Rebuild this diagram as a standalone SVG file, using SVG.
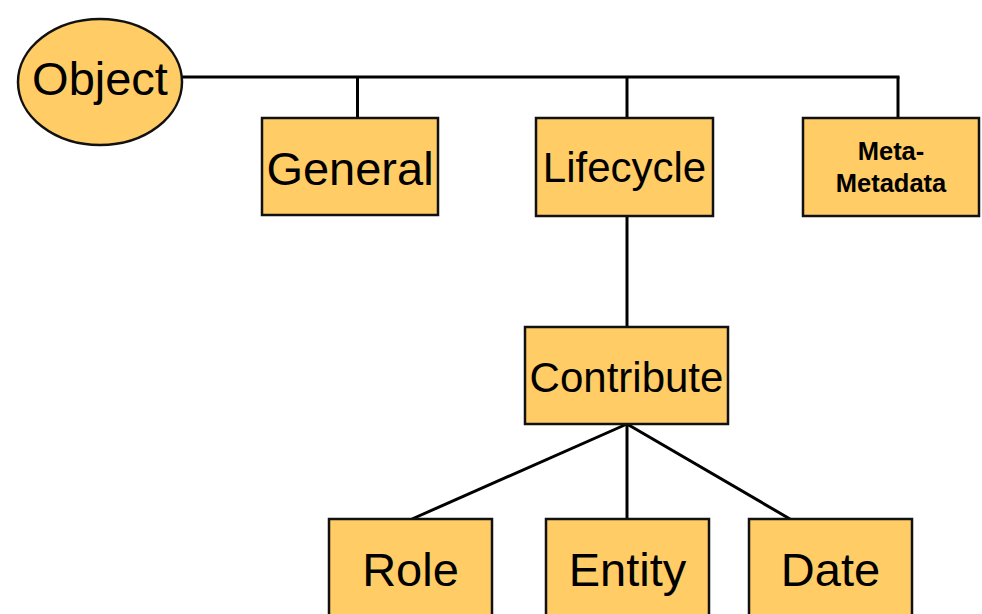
<svg xmlns="http://www.w3.org/2000/svg" width="982" height="614" viewBox="0 0 982 614">
  <style>
    .node { fill: #FFCC66; stroke: #111; stroke-width: 2.5; }
    .lbl { font-family: "Liberation Sans", Arial, sans-serif; fill: #000; text-anchor: middle; }
    .big { font-size: 47px; }
    .mid { font-size: 42px; }
    .small { font-size: 25.5px; font-weight: bold; }
    .link { stroke: #000; stroke-width: 3; fill: none; }
  </style>
  <rect width="982" height="614" fill="#fff"/>

  <g id="connectors">
    <line class="link" x1="182" y1="77" x2="899.5" y2="77"/>
    <line class="link" x1="357.5" y1="77" x2="357.5" y2="118"/>
    <line class="link" x1="627" y1="77" x2="627" y2="118"/>
    <line class="link" x1="898" y1="77" x2="898" y2="118"/>
    <line class="link" x1="627" y1="216" x2="627" y2="327"/>
    <line class="link" x1="627" y1="424" x2="412" y2="519" stroke-width="2.5"/>
    <line class="link" x1="627" y1="424" x2="627" y2="519"/>
    <line class="link" x1="627" y1="424" x2="790" y2="519" stroke-width="2.5"/>
  </g>

  <g id="object">
    <ellipse class="node" cx="100" cy="82" rx="82" ry="63"/>
    <text class="lbl big" x="100" y="95">Object</text>
  </g>

  <g id="general">
    <rect class="node" x="262" y="118" width="176" height="97"/>
    <text class="lbl big" x="350" y="185">General</text>
  </g>

  <g id="lifecycle">
    <rect class="node" x="536" y="118" width="177" height="98"/>
    <text class="lbl mid" x="624.5" y="182">Lifecycle</text>
  </g>

  <g id="meta-metadata">
    <rect class="node" x="803" y="118" width="176" height="98"/>
    <text class="lbl small" x="891" y="160">Meta-</text>
    <text class="lbl small" x="891" y="192">Metadata</text>
  </g>

  <g id="contribute">
    <rect class="node" x="525" y="327" width="203" height="97"/>
    <text class="lbl mid" x="626.5" y="392">Contribute</text>
  </g>

  <g id="role">
    <rect class="node" x="329" y="519" width="163" height="110"/>
    <text class="lbl big" x="410.5" y="586">Role</text>
  </g>

  <g id="entity">
    <rect class="node" x="546" y="519" width="163" height="110"/>
    <text class="lbl big" x="627.5" y="586">Entity</text>
  </g>

  <g id="date">
    <rect class="node" x="749" y="519" width="163" height="110"/>
    <text class="lbl big" x="830.5" y="586">Date</text>
  </g>
</svg>
